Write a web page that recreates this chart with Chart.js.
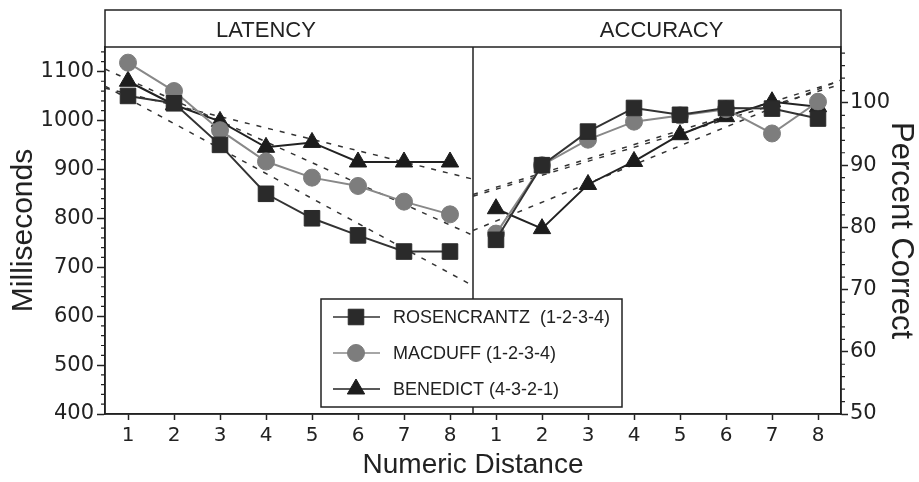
<!DOCTYPE html>
<html>
<head>
<meta charset="utf-8">
<script src="https://cdn.jsdelivr.net/npm/chart.js@4.4.1/dist/chart.umd.min.js"></script>
<style>
  html, body { margin: 0; padding: 0; background: #fff; }
  #wrap { width: 919px; height: 482px; position: relative; }
</style>
</head>
<body>
<div id="wrap"><canvas id="distanceChart"></canvas></div>
<script>
const distances = [1, 2, 3, 4, 5, 6, 7, 8];
const msTicks = [400, 500, 600, 700, 800, 900, 1000, 1100];
const pctTicks = [50, 60, 70, 80, 90, 100];

// latency (ms)
const rosLatency = [1050, 1035, 950, 850, 800, 765, 732, 732];
const macLatency = [1118, 1060, 980, 916, 883, 866, 834, 808];
const benLatency = [1080, 1032, 998, 945, 955, 915, 915, 915];

// accuracy (percent correct)
const rosAccuracy = [78, 90, 95.4, 99.2, 98.1, 99.2, 99.1, 97.5];
const macAccuracy = [79, 90, 94.1, 97, 98, 99, 95.1, 100.2];
const benAccuracy = [83, 79.8, 86.9, 90.6, 94.9, 97.8, 100.2, 99.4];

// dashed fit lines, values read at the panel edges (distance 0.5 and 8.5)
const fitEnds = [0.5, 8.5];
const rosLatencyFit = [1070, 662];
const macLatencyFit = [1105, 765];
const benLatencyFit = [1066, 880];
const rosAccuracyFit = [85.3, 103.6];
const macAccuracyFit = [85.0, 103.0];
const benAccuracyFit = [79.5, 103.7];

const FONT = '"Liberation Sans", Arial, Helvetica, sans-serif';
const NUM_FONT = '"DejaVu Sans", "Liberation Sans", sans-serif';
const INK = "#222";
const OFFSET = 8; // accuracy panel sits right of the latency panel

Chart.defaults.font.family = FONT;
Chart.defaults.color = INK;

const styles = {
  ros: { label: "ROSENCRANTZ  (1-2-3-4)", fill: "#2a2a2a", line: "#333", point: "rect", radius: 11 },
  mac: { label: "MACDUFF (1-2-3-4)", fill: "#7d7d7d", line: "#888", point: "circle", radius: 8.5 },
  ben: { label: "BENEDICT (4-3-2-1)", fill: "#1c1c1c", line: "#222", point: "triangle", radius: 10 }
};

function series(st, values, shift, axis, inLegend) {
  return {
    label: st.label,
    data: values.map((v, i) => ({ x: distances[i] + shift, y: v })),
    yAxisID: axis,
    borderColor: st.line,
    borderWidth: 2,
    pointStyle: st.point,
    pointRadius: st.radius,
    pointBackgroundColor: st.fill,
    pointBorderColor: st.fill,
    pointBorderWidth: 1,
    order: 0,
    inLegend: inLegend
  };
}

function fit(ends, shift, axis) {
  return {
    data: ends.map((v, i) => ({ x: fitEnds[i] + shift, y: v })),
    yAxisID: axis,
    borderColor: "#333",
    borderWidth: 1.5,
    borderDash: [5, 7],
    pointRadius: 0,
    order: 1
  };
}

const xTicks = distances.concat(distances.map(d => d + OFFSET));

const framePlugin = {
  id: "frame",
  beforeDatasetsDraw(chart) {
    const { ctx, chartArea: a, scales } = chart;
    const x = scales.x, yL = scales.yL, yR = scales.yR;
    const mid = x.getPixelForValue(8.5);
    const head = 37;
    ctx.save();
    ctx.strokeStyle = INK;
    ctx.lineWidth = 1.5;
    ctx.strokeRect(a.left, a.top - head, a.right - a.left, a.bottom - a.top + head);
    ctx.beginPath();
    ctx.moveTo(a.left, a.top);
    ctx.lineTo(a.right, a.top);
    ctx.moveTo(mid, a.top);
    ctx.lineTo(mid, a.bottom);
    ctx.stroke();

    // minor ticks
    ctx.lineWidth = 1.2;
    ctx.beginPath();
    for (let v = 400; v <= 1140; v += 20) {
      if (v % 100 === 0) continue;
      const py = yL.getPixelForValue(v);
      ctx.moveTo(a.left - 4, py);
      ctx.lineTo(a.left, py);
    }
    for (let v = 50; v <= 108; v += 2) {
      if (v % 10 === 0) continue;
      const py = yR.getPixelForValue(v);
      ctx.moveTo(a.right, py);
      ctx.lineTo(a.right + 4, py);
    }
    ctx.stroke();

    // panel headers
    ctx.fillStyle = INK;
    ctx.font = "22px " + FONT;
    ctx.textAlign = "center";
    ctx.textBaseline = "middle";
    ctx.fillText("LATENCY", x.getPixelForValue(4), a.top - head / 2 + 2);
    ctx.fillText("ACCURACY", x.getPixelForValue(12.6), a.top - head / 2 + 2);
    ctx.restore();
  },
  afterDatasetsDraw(chart) {
    const { ctx, chartArea: a } = chart;
    const box = { left: a.left + 216, top: 299, w: 301, h: 108 };
    ctx.save();
    ctx.fillStyle = "#fff";
    ctx.fillRect(box.left, box.top, box.w, box.h);
    ctx.strokeStyle = INK;
    ctx.lineWidth = 1.5;
    ctx.strokeRect(box.left, box.top, box.w, box.h);

    const items = chart.data.datasets.filter(d => d.inLegend);
    items.forEach((d, i) => {
      const y = box.top + 18 + i * 36;
      const cx = box.left + 35;
      ctx.strokeStyle = d.borderColor;
      ctx.lineWidth = 1.5;
      ctx.beginPath();
      ctx.moveTo(box.left + 12, y);
      ctx.lineTo(box.left + 59, y);
      ctx.stroke();
      ctx.fillStyle = d.pointBackgroundColor;
      ctx.strokeStyle = d.pointBorderColor;
      ctx.lineWidth = 1;
      Chart.helpers.drawPoint(ctx, { pointStyle: d.pointStyle, radius: d.pointRadius, borderWidth: 1, rotation: 0 }, cx, y);
      ctx.fillStyle = INK;
      ctx.font = "18px " + FONT;
      ctx.textAlign = "left";
      ctx.textBaseline = "middle";
      ctx.fillText(d.label, box.left + 72, y + 1);
    });
    ctx.restore();
  }
};

const ctx = document.getElementById("distanceChart").getContext("2d");

const distanceChart = new Chart(ctx, {
  type: "line",
  data: {
    datasets: [
      series(styles.ros, rosLatency, 0, "yL", true),
      series(styles.mac, macLatency, 0, "yL", true),
      series(styles.ben, benLatency, 0, "yL", true),
      series(styles.ros, rosAccuracy, OFFSET, "yR", false),
      series(styles.mac, macAccuracy, OFFSET, "yR", false),
      series(styles.ben, benAccuracy, OFFSET, "yR", false),
      fit(rosLatencyFit, 0, "yL"),
      fit(macLatencyFit, 0, "yL"),
      fit(benLatencyFit, 0, "yL"),
      fit(rosAccuracyFit, OFFSET, "yR"),
      fit(macAccuracyFit, OFFSET, "yR"),
      fit(benAccuracyFit, OFFSET, "yR")
    ]
  },
  options: {
    responsive: true,
    maintainAspectRatio: false,
    animation: false,
    layout: { padding: { top: 47, left: 0, right: 0, bottom: 0 } },
    plugins: {
      legend: { display: false },
      tooltip: { enabled: false }
    },
    scales: {
      x: {
        type: "linear",
        min: 0.5,
        max: 16.5,
        afterFit: s => { s.height = 68; },
        afterBuildTicks: s => { s.ticks = xTicks.map(v => ({ value: v })); },
        ticks: {
          callback: v => (v > OFFSET ? v - OFFSET : v),
          font: { size: 20, family: NUM_FONT },
          color: INK,
          padding: 4,
          autoSkip: false,
          maxRotation: 0
        },
        grid: { drawOnChartArea: false, tickLength: 6, tickColor: INK, tickWidth: 1.5 },
        border: { color: INK, width: 1.5 },
        title: { display: true, text: "Numeric Distance", font: { size: 28 }, color: INK, padding: 0 }
      },
      yL: {
        type: "linear",
        position: "left",
        min: 400,
        max: 1150,
        afterFit: s => { s.width = 105; },
        afterBuildTicks: s => { s.ticks = msTicks.map(v => ({ value: v })); },
        ticks: { callback: v => String(v), font: { size: 21, family: NUM_FONT }, color: INK, padding: 3 },
        grid: { drawOnChartArea: false, tickLength: 8, tickColor: INK, tickWidth: 1.5 },
        border: { color: INK, width: 1.5 },
        title: { display: true, text: "Milliseconds", font: { size: 30 }, color: INK, padding: { top: 6 } }
      },
      yR: {
        type: "linear",
        position: "right",
        min: 50,
        max: 109,
        afterFit: s => { s.width = 78; },
        afterBuildTicks: s => { s.ticks = pctTicks.map(v => ({ value: v })); },
        ticks: { callback: v => String(v), font: { size: 21, family: NUM_FONT }, color: INK, padding: 2 },
        grid: { drawOnChartArea: false, tickLength: 7, tickColor: INK, tickWidth: 1.5 },
        border: { color: INK, width: 1.5 },
        title: { display: true, text: "Percent Correct", font: { size: 31 }, color: INK, padding: { top: 0 } }
      }
    }
  },
  plugins: [framePlugin]
});
</script>
</body>
</html>
